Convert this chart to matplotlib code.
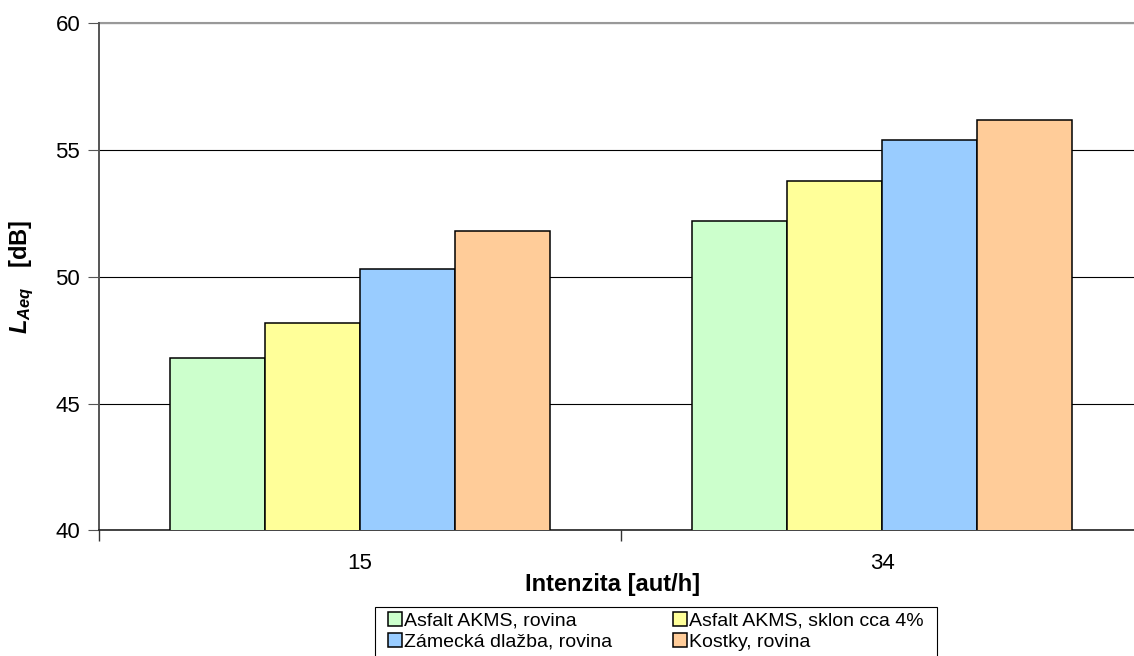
import matplotlib
matplotlib.use('Agg')
import numpy as np
import matplotlib.pyplot as plt
from matplotlib.patches import Rectangle

# data
intensities = ['15', '34']
surfaces = ['Asfalt AKMS, rovina', 'Asfalt AKMS, sklon cca 4%',
            'Zámecká dlažba, rovina', 'Kostky, rovina']
laeq = [
    [46.8, 52.2],   # Asfalt AKMS, rovina
    [48.2, 53.8],   # Asfalt AKMS, sklon cca 4%
    [50.3, 55.4],   # Zámecká dlažba, rovina
    [51.8, 56.2],   # Kostky, rovina
]
colors = ['#CCFFCC', '#FFFF99', '#99CCFF', '#FFCC99']

plt.rcParams['font.family'] = ['Liberation Sans', 'DejaVu Sans']
plt.rcParams['mathtext.fontset'] = 'custom'
plt.rcParams['mathtext.rm'] = 'Liberation Sans'
plt.rcParams['mathtext.it'] = 'Liberation Sans:italic'
plt.rcParams['mathtext.bf'] = 'Liberation Sans:bold'
plt.rcParams['mathtext.bfit'] = 'Liberation Sans:italic:bold'

W, H = 1134, 656
fig = plt.figure(figsize=(W / 100, H / 100), dpi=100)

# plot area in pixels: left 99, right 1143 (runs past the edge), top 23.5, bottom 530.3
ax = fig.add_axes([99 / W, 1 - 530.3 / H, 1044 / W, (530.3 - 23.5) / H])

bw = 95 / 522
centers = np.arange(len(intensities)) + 0.5
for k, (name, vals, c) in enumerate(zip(surfaces, laeq, colors)):
    ax.bar(centers - 2 * bw + k * bw, vals, width=bw, align='edge', bottom=0,
           color=c, edgecolor='black', linewidth=1.1, label=name, zorder=3)

ax.set_xlim(0, 2)
ax.set_ylim(40, 60)
ax.set_yticks([40, 45, 50, 55, 60])
ax.yaxis.grid(True, color='black', linewidth=0.8, zorder=0)
ax.axhline(60, color='#999999', linewidth=1.5, clip_on=False, zorder=1)
ax.tick_params(axis='y', direction='out', length=8, width=0.8, pad=5.5,
               labelsize=16, color='#555555')

ax.set_xticks([0, 1, 2])
ax.set_xticklabels([])
ax.set_xticks(centers, minor=True)
ax.set_xticklabels(intensities, minor=True)
ax.tick_params(axis='x', which='major', direction='out', length=8, width=1,
               color='#333333')
ax.tick_params(axis='x', which='minor', length=0, pad=16.5, labelsize=16)

for s in ['top', 'right']:
    ax.spines[s].set_visible(False)
ax.spines['left'].set_color('#555555')
ax.spines['left'].set_linewidth(1.4)
ax.spines['bottom'].set_color('#222222')
ax.spines['bottom'].set_linewidth(1.2)

fig.text(613 / W, 1 - 591 / H, 'Intenzita [aut/h]', ha='center', va='baseline',
         fontsize=17, fontweight='bold')
fig.text(22 / W, 1 - 277 / H, r'$\mathbfit{L}_{\mathbfit{Aeq}}$   [dB]',
         rotation=90, ha='center', va='center', fontsize=17, fontweight='bold')

# legend frame, open at the bottom edge
fig.patches.append(Rectangle((375 / W, -0.05), (937 - 375) / W, 0.05 + 1 - 607.3 / H,
                             transform=fig.transFigure, facecolor='white',
                             edgecolor='black', linewidth=0.8, zorder=1))
handles, labels = ax.get_legend_handles_labels()
order = [0, 2, 1, 3]  # fill row by row
leg = fig.legend([handles[i] for i in order], [labels[i] for i in order],
                 ncol=2, loc='upper left',
                 bbox_to_anchor=(388 / W, 1 - 612 / H), frameon=False,
                 fontsize=14, borderpad=0, borderaxespad=0,
                 handlelength=0.72, handleheight=0.72, handletextpad=0.12,
                 labelspacing=0.18, columnspacing=3.1)
leg.set_zorder(2)

fig.savefig('out.png', dpi=100)
